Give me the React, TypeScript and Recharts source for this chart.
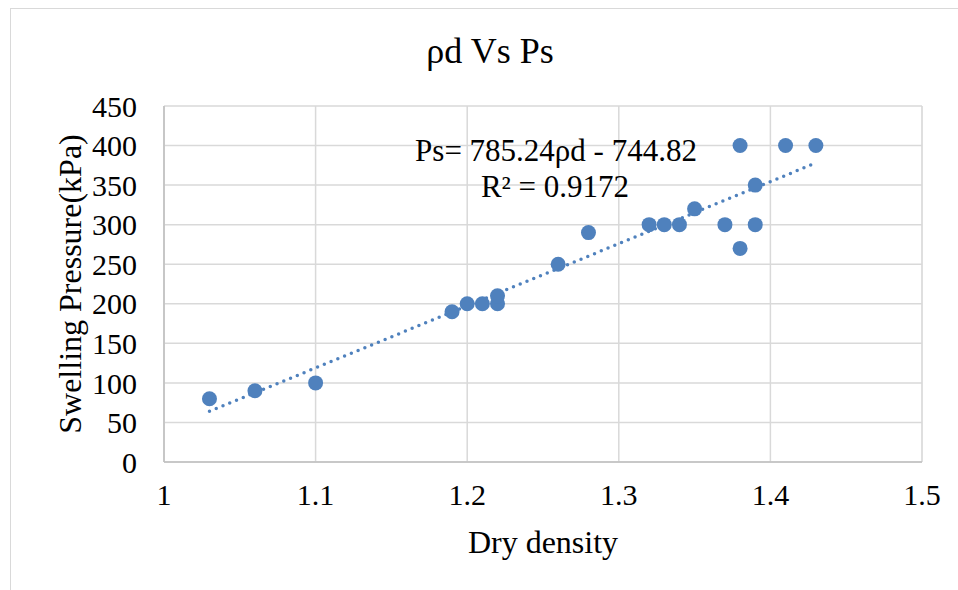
import React from "react";
import {
  ScatterChart,
  Scatter,
  XAxis,
  YAxis,
  CartesianGrid,
  ReferenceLine,
} from "recharts";

// measured points: dry density vs swelling pressure (kPa)
const density = [1.03, 1.06, 1.1, 1.19, 1.2, 1.21, 1.22, 1.22, 1.26, 1.28, 1.32, 1.33, 1.34, 1.35, 1.37, 1.38, 1.38, 1.39, 1.39, 1.41, 1.43];
const pressure = [80, 90, 100, 190, 200, 200, 200, 210, 250, 290, 300, 300, 300, 320, 300, 400, 270, 350, 300, 400, 400];

// linear trendline ends
const trendX = [1.03, 1.43];
const trendY = [64, 378];

const xTicks = [1, 1.1, 1.2, 1.3, 1.4, 1.5];
const xMinorTicks = [1, 1.02, 1.04, 1.06, 1.08, 1.1, 1.12, 1.14, 1.16, 1.18, 1.2, 1.22, 1.24, 1.26, 1.28, 1.3, 1.32, 1.34, 1.36, 1.38, 1.4, 1.42, 1.44, 1.46, 1.48, 1.5];
const yTicks = [0, 50, 100, 150, 200, 250, 300, 350, 400, 450];

const title = "ρd Vs Ps";
const equation = "Ps= 785.24ρd - 744.82";
const rSquared = "R² = 0.9172";

const BLUE = "#4F81BD";
const FONT = "'Liberation Serif', 'Times New Roman', serif";

const points = density.map((x, i) => ({ x, y: pressure[i] }));

const Dot = (props: any) => <circle cx={props.cx} cy={props.cy} r={7.5} fill={BLUE} />;

export default function App() {
  const tickStyle = { fill: "#000", fontSize: 30, style: { fontFamily: FONT } };
  const textStyle = { fontFamily: FONT };
  return (
    <div style={{ position: "absolute", left: 0, top: 0, width: 958, height: 590, background: "#fff", fontFamily: FONT }}>
      <ScatterChart width={958} height={590} margin={{ top: 106, right: 36, left: 0, bottom: 0 }} style={textStyle}>
        <XAxis xAxisId="minor" type="number" dataKey="x" domain={[1, 1.5]} ticks={xMinorTicks} hide />
        <CartesianGrid xAxisId="minor" horizontal={false} stroke="#EDEDED" strokeWidth={1.5} />
        <CartesianGrid stroke="#D9D9D9" strokeWidth={1.5} />
        <XAxis
          type="number"
          dataKey="x"
          domain={[1, 1.5]}
          ticks={xTicks}
          height={128}
          tickSize={0}
          tickMargin={22}
          tickLine={false}
          axisLine={{ stroke: "#BFBFBF", strokeWidth: 1.5 }}
          tick={tickStyle}
          label={{ value: "Dry density", position: "insideTop", offset: 68, fill: "#000", fontSize: 32, style: textStyle }}
        />
        <YAxis
          type="number"
          dataKey="y"
          domain={[0, 450]}
          ticks={yTicks}
          width={164}
          tickSize={0}
          tickMargin={27}
          tickLine={false}
          axisLine={{ stroke: "#BFBFBF", strokeWidth: 1.5 }}
          tick={tickStyle}
          label={{
            value: "Swelling Pressure(kPa)",
            angle: -90,
            position: "insideLeft",
            offset: 70,
            fill: "#000",
            fontSize: 32,
            style: { textAnchor: "middle", fontFamily: FONT },
          }}
        />
        <ReferenceLine
          segment={[
            { x: trendX[0], y: trendY[0] },
            { x: trendX[1], y: trendY[1] },
          ]}
          stroke={BLUE}
          strokeWidth={3.5}
          strokeDasharray="0 7.3"
          strokeLinecap="round"
          ifOverflow="visible"
        />
        <Scatter data={points} shape={Dot} isAnimationActive={false} />
      </ScatterChart>
      <svg width={958} height={590} style={{ position: "absolute", left: 0, top: 0, pointerEvents: "none" }}>
        <line x1={10} y1={8.5} x2={958} y2={8.5} stroke="#D9D9D9" />
        <line x1={10.5} y1={8} x2={10.5} y2={590} stroke="#D9D9D9" />
        <text x={490} y={63} textAnchor="middle" fontSize={36} style={textStyle} fill="#000">{title}</text>
        <text x={556} y={161} textAnchor="middle" fontSize={31} style={textStyle} fill="#000">{equation}</text>
        <text x={555} y={197} textAnchor="middle" fontSize={31} style={textStyle} fill="#000">{rSquared}</text>
      </svg>
    </div>
  );
}
